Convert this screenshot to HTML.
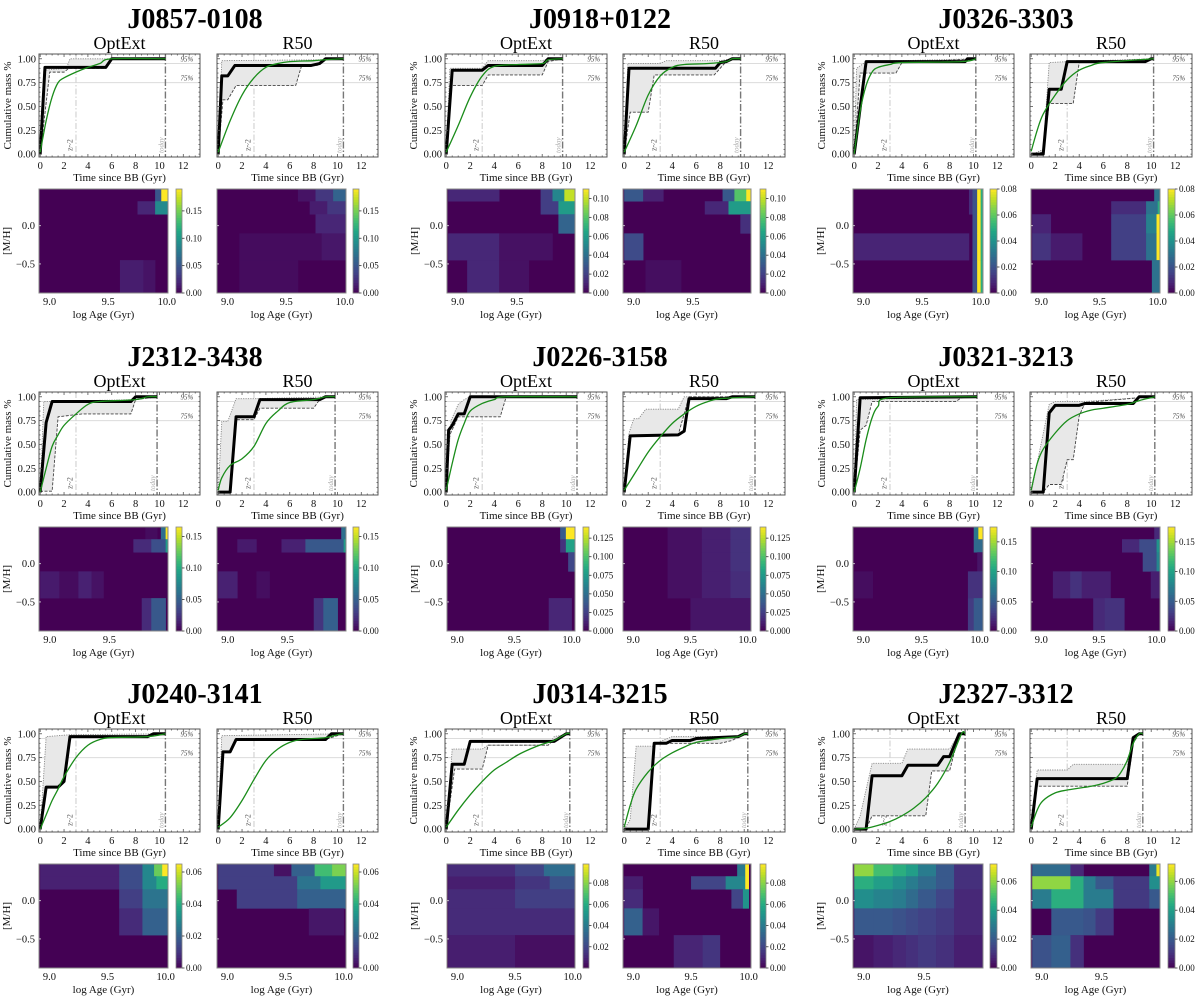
<!DOCTYPE html>
<html><head><meta charset="utf-8">
<style>
html,body{margin:0;padding:0;background:#fff;}
svg{display:block;font-family:"Liberation Serif",serif;}
</style></head>
<body>
<svg id="fig" width="1200" height="999" viewBox="0 0 1200 999" xmlns="http://www.w3.org/2000/svg"></svg>
<script>
// ---------------- DATA ----------------
const galaxyNames = ["J0857-0108","J0918+0122","J0326-3303","J2312-3438","J0226-3158","J0321-3213","J0240-3141","J0314-3215","J2327-3312"];
const todayAges = [10.5,9.7,10.2,9.8,10.9,10.3,10.5,10.3,9.3];
const hmRightLimits = [10.01,9.99,10.02,9.99,10.03,10.03,10.02,10.02,9.99];
const cbMax = [0.19,0.11,0.08,0.165,0.14,0.175,0.065,0.098,0.072];
const cbTicks = [[0,0.05,0.10,0.15],[0,0.02,0.04,0.06,0.08,0.10],[0,0.02,0.04,0.06,0.08],[0,0.05,0.10,0.15],[0,0.025,0.05,0.075,0.1,0.125],[0,0.05,0.10,0.15],[0,0.02,0.04,0.06],[0.02,0.04,0.06,0.08],[0,0.02,0.04,0.06]];
const cbTicksR50 = [[0,0.05,0.10,0.15],[0,0.02,0.04,0.06,0.08,0.10],[0,0.02,0.04,0.06,0.08],[0,0.05,0.10,0.15],[0,0.025,0.05,0.075,0.1,0.125],[0,0.05,0.10,0.15],[0,0.02,0.04,0.06],[0,0.02,0.04,0.06,0.08],[0,0.02,0.04,0.06]];
const cbDecimals = [2,2,2,2,3,2,2,2,2];
const yTicks = [0,0.25,0.5,0.75,1.0];
const xTicks = [0,2,4,6,8,10,12];
const mhTicks = [0.0,-0.5];
const ageTicks = [9.0,9.5,10.0];
const mhEdges = [0.48,0.32,0.15,-0.10,-0.45,-0.88];

const blackOpt = [
 [[0,0],[0.4,0.91],[5.5,0.91],[6,1.0],[10.5,1.0]],
 [[0,0],[0.5,0.88],[3,0.88],[3.5,0.93],[8,0.93],[8.5,1.0],[9.7,1.0]],
 [[0,0],[1,0.97],[9.3,0.97],[9.5,1.0],[10.2,1.0]],
 [[0,0],[0.5,0.73],[1,0.95],[7.6,0.95],[8,1],[9.8,1]],
 [[0,0],[0.2,0.65],[0.5,0.7],[1,0.82],[1.5,0.82],[2,1],[10.9,1]],
 [[0,0],[0.5,0.99],[10.3,1]],
 [[0,0],[0.5,0.44],[1.5,0.44],[2,0.5],[2.5,0.97],[9,0.97],[9.5,1],[10.5,1]],
 [[0,0],[0.5,0.68],[1.5,0.68],[2,0.92],[9,0.92],[10,1],[10.3,1]],
 [[0,0],[1,0],[1.5,0.56],[4,0.56],[4.5,0.67],[7,0.67],[7.5,0.76],[8,0.76],[8.8,1],[9.3,1]]
];
const blackR50 = [
 [[0,0],[0.3,0.82],[0.8,0.82],[1.4,0.93],[7.8,0.93],[8.5,0.95],[9,1.0],[10.5,1.0]],
 [[0,0],[0.4,0.9],[7.6,0.9],[8,0.96],[8.5,0.97],[9,1],[9.7,1]],
 [[0,0],[1,0],[1.5,0.68],[2.5,0.68],[3,0.97],[9.5,0.97],[10,1],[10.2,1]],
 [[0,0],[1,0],[1.5,0.79],[3,0.79],[3.5,0.97],[8.5,0.97],[9,1],[9.8,1]],
 [[0,0],[0.5,0.59],[4.5,0.6],[5,0.64],[5.4,0.98],[8.5,0.98],[9,1],[10.9,1]],
 [[0,0],[1,0],[1.5,0.83],[2,0.91],[4,0.91],[4.5,0.93],[8.5,0.93],[9,1],[10.3,1]],
 [[0,0],[0.4,0.81],[1,0.81],[1.5,0.94],[9,0.94],[9.5,1],[10.5,1]],
 [[0,0],[2,0],[2.5,0.9],[3.5,0.9],[4,0.93],[5.5,0.93],[6,0.95],[9.5,0.97],[10,1],[10.3,1]],
 [[0,0],[0.5,0.53],[8,0.53],[8.5,0.96],[9,1],[9.3,1]]
];
const greenOpt = [
 [[0,0.02],[0.5,0.35],[1,0.6],[1.5,0.75],[2,0.8],[3,0.86],[4,0.91],[5,0.95],[6,1.0],[10.5,1.0]],
 [[0,0.02],[1,0.3],[2,0.6],[3,0.82],[4,0.92],[6,0.94],[8,0.95],[8.5,0.99],[9.7,1]],
 [[0,0],[0.5,0.45],[1,0.72],[1.5,0.86],[2,0.91],[3,0.94],[4,0.96],[9,0.97],[10.2,1]],
 [[0,0],[0.5,0.25],[1,0.48],[1.5,0.6],[2,0.7],[3,0.82],[4,0.92],[5,0.95],[8,0.97],[9,1],[9.8,1]],
 [[0,0.02],[0.5,0.3],[1,0.55],[1.5,0.72],[2,0.85],[3,0.93],[4,0.97],[5,1],[10.9,1]],
 [[0,0],[0.5,0.25],[1,0.55],[1.5,0.78],[2,0.9],[3,0.99],[10.3,1]],
 [[0,0],[0.5,0.15],[1,0.3],[1.5,0.42],[2,0.55],[3,0.75],[4,0.88],[5,0.94],[6,0.96],[9,0.97],[10.5,1]],
 [[0,0.02],[1,0.2],[2,0.36],[3,0.5],[4,0.62],[5,0.7],[6,0.78],[7,0.84],[8,0.89],[9,0.93],[10,1],[10.3,1]],
 [[0,0],[1,0.01],[2,0.04],[3,0.08],[4,0.14],[5,0.22],[6,0.33],[7,0.48],[8,0.7],[9,1],[9.3,1]]
];
const greenR50 = [
 [[0,0.02],[1,0.35],[2,0.62],[3,0.8],[4,0.91],[5,0.95],[6,0.97],[8,0.98],[9,0.99],[10.5,1.0]],
 [[0,0.02],[1,0.3],[2,0.62],[3,0.82],[4,0.91],[5,0.94],[7,0.95],[8.5,0.97],[9,1],[9.7,1]],
 [[0,0.03],[0.5,0.25],[1,0.42],[2,0.62],[3,0.78],[4,0.88],[5,0.93],[6,0.96],[10.2,1]],
 [[0,0.02],[0.3,0.15],[1,0.28],[2,0.35],[3,0.48],[4,0.72],[5,0.85],[6,0.94],[8,0.97],[9,1],[9.8,1]],
 [[0,0.02],[1,0.22],[2,0.42],[3,0.58],[4,0.72],[5,0.82],[6,0.9],[7,0.95],[8,0.98],[10.9,1]],
 [[0,0.02],[0.5,0.3],[1,0.45],[2,0.62],[3,0.75],[4,0.82],[5,0.86],[6,0.88],[8,0.92],[9,0.96],[10.3,1]],
 [[0,0.02],[1,0.12],[2,0.3],[3,0.52],[4,0.72],[5,0.84],[6,0.91],[7,0.94],[9,0.96],[10,0.99],[10.5,1]],
 [[0,0.02],[0.5,0.25],[1,0.42],[2,0.6],[3,0.72],[4,0.8],[5,0.86],[6,0.91],[8,0.95],[9.5,0.97],[10,1],[10.3,1]],
 [[0,0.02],[0.5,0.2],[1,0.3],[2,0.38],[3,0.41],[4,0.43],[5,0.45],[6,0.48],[7,0.53],[7.5,0.6],[8,0.72],[8.5,0.9],[9,1],[9.3,1]]
];
const upperOpt = [
 [[0,0],[0.3,0.88],[2.2,0.9],[2.5,1.0],[10.5,1.0]],
 [[0,0],[0.3,0.9],[3,0.9],[3.5,0.98],[8,0.98],[8.5,1],[9.7,1]],
 [[0,0],[0.2,0.9],[1,0.97],[10.2,1]],
 [[0,0],[0.3,0.95],[8,0.97],[9.8,1]],
 [[0,0],[0.4,0.75],[1,0.92],[1.5,0.97],[2,1],[10.9,1]],
 [[0,0],[0.2,0.97],[10.3,1]],
 [[0,0],[0.5,0.97],[2.5,0.99],[10.5,1]],
 [[0,0],[0.5,0.84],[3,0.84],[3.5,0.88],[8.5,0.88],[9,0.97],[10.3,1]],
 [[0,0],[0.5,0.14],[1.5,0.69],[4,0.69],[4.5,0.84],[8,0.84],[8.8,1],[9.3,1]]
];
const lowerOpt = [
 [[0,0],[0.8,0.86],[2,0.86],[2.4,0.9],[5.5,0.9],[6,1.0],[10.5,1.0]],
 [[0,0],[0.3,0.72],[3,0.72],[3.5,0.83],[8,0.83],[8.5,0.97],[9.7,1]],
 [[0,0],[0.5,0.85],[3.5,0.85],[4,0.96],[10.2,1]],
 [[0,0],[0.2,0.01],[1,0.01],[1.5,0.79],[3.5,0.82],[7.6,0.82],[8,0.97],[9.8,1]],
 [[0,0],[0.3,0.6],[1,0.79],[4.5,0.79],[5,1],[10.9,1]],
 [[0,0],[0.5,0.65],[1,0.7],[1.5,0.95],[8.5,0.95],[9,0.99],[10.3,1]],
 [[0,0],[0.5,0.44],[1.5,0.44],[2,0.5],[2.5,0.97],[9,0.97],[10.5,1]],
 [[0,0],[0.7,0.63],[3,0.63],[3.5,0.88],[8.5,0.88],[9,0.94],[10.3,1]],
 [[0,0],[1,0],[1.5,0.14],[6,0.14],[6.5,0.61],[8,0.61],[8.8,1],[9.3,1]]
];
const upperR50 = [
 [[0,0],[0.3,0.98],[9,0.99],[10.5,1.0]],
 [[0,0],[0.3,0.95],[3,0.95],[3.5,0.98],[8,0.98],[9,1],[9.7,1]],
 [[0,0],[0.5,0.02],[1,0.05],[1.5,0.96],[3,0.97],[10.2,1]],
 [[0,0],[0.3,0.74],[0.8,0.74],[1.5,0.98],[3,0.98],[9.8,1]],
 [[0,0],[0.4,0.62],[0.8,0.77],[1.2,0.77],[1.8,0.87],[4.5,0.87],[5,1],[10.9,1]],
 [[0,0],[1.5,0.92],[2,0.95],[4.5,0.95],[9,0.99],[10.3,1]],
 [[0,0],[0.3,0.98],[10.5,1]],
 [[0,0],[0.5,0.1],[1,0.87],[2.5,0.87],[3,0.92],[4,0.97],[9.5,0.97],[10.3,1]],
 [[0,0],[0.5,0.62],[3,0.62],[3.5,0.68],[8,0.68],[8.5,0.97],[9,1],[9.3,1]]
];
const lowerR50 = [
 [[0,0],[0.4,0.57],[0.8,0.57],[1.5,0.72],[6.5,0.72],[7,0.93],[8.3,0.93],[9,0.99],[10.5,1.0]],
 [[0,0],[0.5,0.44],[2,0.44],[2.5,0.83],[7.5,0.83],[8.5,0.97],[9,1],[9.7,1]],
 [[0,0],[1,0.02],[1.5,0.53],[3.5,0.53],[4,0.96],[10.2,1]],
 [[0,0],[1,0],[1.5,0.76],[3,0.76],[3.5,0.88],[8,0.88],[8.5,0.97],[9,1],[9.8,1]],
 [[0,0],[0.5,0.59],[4.5,0.6],[5.4,1],[10.9,1]],
 [[0,0],[1,0],[1.5,0.08],[2.5,0.08],[3,0.34],[3.5,0.34],[4,0.8],[4.5,0.94],[9,0.99],[10.3,1]],
 [[0,0],[0.4,0.81],[1,0.81],[1.5,0.94],[9,0.94],[10.5,1]],
 [[0,0],[2,0],[2.5,0.9],[6,0.9],[8,0.9],[9,0.93],[10,1],[10.3,1]],
 [[0,0],[0.5,0.45],[8,0.45],[8.5,0.9],[9,1],[9.3,1]]
];
const hmOpt = [
 [[9.95,10.01,0,0.19],[9.9,9.95,0,0.05],[9.75,9.9,1,0.02],[9.9,10.01,1,0.09],[9.6,9.8,4,0.015],[9.8,9.9,4,0.01]],
 [[8.92,9.35,0,0.012],[9.7,9.8,0,0.02],[9.8,9.9,0,0.05],[9.9,9.99,0,0.1],[9.7,9.85,1,0.02],[9.85,9.99,1,0.06],[9.85,9.99,2,0.035],[8.92,9.35,3,0.012],[9.35,9.8,3,0.005],[9.08,9.35,4,0.012],[9.35,9.6,4,0.005]],
 [[8.92,9.9,3,0.008],[9.9,9.95,0,0.01],[9.9,9.95,1,0.01],[9.93,9.97,0,0.02],[9.93,9.97,1,0.02],[9.93,9.97,2,0.02],[9.93,9.97,3,0.02],[9.93,9.97,4,0.02],[9.97,10.0,0,0.08],[9.97,10.0,1,0.08],[9.97,10.0,2,0.08],[9.97,10.0,3,0.08],[9.97,10.0,4,0.08],[10.0,10.02,0,0.05],[10.0,10.02,1,0.05],[10.0,10.02,2,0.05],[10.0,10.02,3,0.05],[10.0,10.02,4,0.05]],
 [[9.8,9.9,0,0.005],[9.93,9.97,0,0.06],[9.97,9.99,0,0.165],[9.7,9.85,1,0.02],[9.85,9.97,1,0.04],[9.97,9.99,1,0.09],[8.92,9.08,3,0.012],[9.08,9.24,3,0.005],[9.24,9.35,3,0.015],[9.35,9.45,3,0.008],[9.77,9.85,4,0.02],[9.85,9.97,4,0.045]],
 [[9.9,9.95,0,0.04],[9.95,10.03,0,0.14],[9.9,9.95,1,0.02],[9.95,10.03,1,0.08],[9.97,10.03,2,0.03],[9.8,10.0,4,0.015]],
 [[9.95,9.99,0,0.07],[9.99,10.03,0,0.175],[9.95,10.03,1,0.06],[9.98,10.03,2,0.01],[8.92,9.08,3,0.006],[9.9,10.03,3,0.025],[9.9,9.95,4,0.03],[9.95,10.03,4,0.05]],
 [[8.92,9.6,0,0.006],[9.6,9.8,0,0.015],[9.8,9.9,0,0.03],[9.9,9.97,0,0.05],[9.97,10.02,0,0.065],[8.92,9.6,1,0.006],[9.6,9.8,1,0.015],[9.8,9.92,1,0.03],[9.92,10.02,1,0.04],[9.6,9.8,2,0.012],[9.8,10.02,2,0.025],[9.6,9.8,3,0.008],[9.8,10.02,3,0.02]],
 [[8.92,10.02,0,0.008],[8.92,10.02,1,0.008],[8.92,10.02,4,0.006],[8.92,9.5,0,0.012],[9.5,9.75,0,0.02],[9.75,10.02,0,0.035],[9.5,9.8,1,0.015],[9.8,10.02,1,0.025],[8.92,9.5,2,0.012],[9.5,10.02,2,0.018],[8.92,10.02,3,0.012],[8.92,9.5,4,0.008],[9.5,10.02,4,0.004]],
 [[8.92,9.08,0,0.06],[9.08,9.24,0,0.05],[9.24,9.35,0,0.045],[9.35,9.45,0,0.04],[9.45,9.6,0,0.03],[9.6,9.75,0,0.02],[9.75,9.99,0,0.01],
  [8.92,9.08,1,0.045],[9.08,9.24,1,0.04],[9.24,9.35,1,0.035],[9.35,9.45,1,0.03],[9.45,9.6,1,0.025],[9.6,9.75,1,0.02],[9.75,9.99,1,0.01],
  [8.92,9.08,2,0.035],[9.08,9.24,2,0.032],[9.24,9.35,2,0.03],[9.35,9.45,2,0.025],[9.45,9.6,2,0.02],[9.6,9.75,2,0.015],[9.75,9.99,2,0.008],
  [8.92,9.08,3,0.02],[9.08,9.24,3,0.02],[9.24,9.35,3,0.018],[9.35,9.45,3,0.016],[9.45,9.6,3,0.014],[9.6,9.75,3,0.012],[9.75,9.99,3,0.008],
  [8.92,9.08,4,0.004],[9.08,9.24,4,0.006],[9.24,9.35,4,0.008],[9.35,9.45,4,0.01],[9.45,9.6,4,0.012],[9.6,9.75,4,0.01],[9.75,9.99,4,0.006]]
];
const hmR50 = [
 [[9.6,9.75,0,0.01],[9.75,9.9,0,0.03],[9.9,10.01,0,0.06],[9.7,9.85,1,0.015],[9.85,10.01,1,0.03],[9.75,10.01,2,0.02],[9.8,10.01,3,0.012],[9.1,9.8,3,0.006],[9.1,9.6,4,0.006]],
 [[8.92,9.08,0,0.03],[9.08,9.25,0,0.01],[9.75,9.85,0,0.03],[9.85,9.95,0,0.08],[9.95,9.99,0,0.11],[9.6,9.8,1,0.012],[9.8,9.99,1,0.06],[9.9,9.99,2,0.015],[8.92,9.08,3,0.025],[9.1,9.4,4,0.004]],
 [[9.97,10.02,0,0.03],[9.6,9.9,1,0.01],[9.9,10.0,1,0.03],[10.0,10.02,1,0.05],[8.92,9.08,2,0.008],[9.6,9.9,2,0.015],[9.9,9.99,2,0.035],[9.99,10.02,2,0.08],[8.92,9.08,3,0.012],[9.08,9.35,3,0.006],[9.6,9.9,3,0.015],[9.9,9.99,3,0.03],[9.99,10.02,3,0.08],[9.95,10.02,4,0.03]],
 [[9.95,9.99,0,0.06],[9.08,9.24,1,0.012],[9.45,9.65,1,0.015],[9.65,9.97,1,0.045],[9.97,9.99,1,0.09],[8.92,9.08,3,0.015],[9.24,9.35,3,0.006],[9.72,9.8,4,0.025],[9.8,9.92,4,0.05]],
 [[9.3,9.6,0,0.006],[9.6,9.85,0,0.012],[9.85,10.03,0,0.02],[9.3,9.6,1,0.006],[9.6,9.85,1,0.012],[9.85,10.03,1,0.02],[9.3,9.6,2,0.006],[9.6,9.85,2,0.012],[9.85,10.03,2,0.02],[9.3,9.6,3,0.006],[9.6,9.85,3,0.012],[9.85,10.03,3,0.018],[9.5,10.03,4,0.008]],
 [[9.98,10.03,0,0.02],[9.7,9.85,1,0.02],[9.85,10.0,1,0.04],[10.0,10.03,1,0.09],[9.88,10.0,2,0.04],[10.0,10.03,2,0.08],[9.1,9.25,3,0.015],[9.25,9.35,3,0.025],[9.35,9.6,3,0.015],[9.95,10.03,3,0.015],[9.45,9.55,4,0.02],[9.55,9.72,4,0.025]],
 [[8.92,9.4,0,0.012],[9.4,9.55,0,0.003],[9.55,9.75,0,0.02],[9.75,9.9,0,0.045],[9.9,10.02,0,0.052],[8.92,9.6,1,0.012],[9.6,9.8,1,0.025],[9.8,10.02,1,0.035],[9.08,9.6,2,0.012],[9.6,10.02,2,0.02],[9.7,10.0,3,0.004]],
 [[9.9,9.97,0,0.04],[9.97,10.0,0,0.098],[8.92,9.08,1,0.008],[9.5,9.8,1,0.02],[9.8,9.97,1,0.045],[9.97,10.0,1,0.098],[8.92,9.08,2,0.012],[9.85,9.95,2,0.02],[9.95,10.0,2,0.05],[8.92,9.08,3,0.03],[9.08,9.22,3,0.006],[9.35,9.6,4,0.01],[9.6,9.75,4,0.015]],
 [[8.92,9.24,0,0.025],[9.24,9.35,0,0.008],[9.9,9.96,0,0.03],[9.96,9.99,0,0.07],[8.92,9.24,1,0.06],[9.24,9.35,1,0.045],[9.35,9.45,1,0.03],[9.45,9.6,1,0.02],[9.6,9.9,1,0.012],[9.9,9.99,1,0.035],[8.92,9.08,2,0.03],[9.08,9.35,2,0.045],[9.35,9.6,2,0.03],[9.6,9.9,2,0.012],[9.9,9.99,2,0.02],[9.08,9.35,3,0.02],[9.35,9.45,3,0.018],[9.45,9.6,3,0.012],[8.92,9.08,4,0.018],[9.08,9.24,4,0.022],[9.24,9.35,4,0.01]]
];

// ---------------- LAYOUT ----------------
const colLayouts = [
 {title:195, ax1:[39,200], ax2:[217,378], hm1:[39,168], cb1:[176,182], hm2:[217,346], cb2:[353,359]},
 {title:600, ax1:[445,607], ax2:[623,785], hm1:[447,575], cb1:[583,589], hm2:[623,751], cb2:[760,766]},
 {title:1006, ax1:[853,1014], ax2:[1030,1192], hm1:[853,983], cb1:[990,997], hm2:[1031,1160], cb2:[1168,1175]}
];
const rowOffsets = [0,338,675];

const NS = "http://www.w3.org/2000/svg";
const svg = document.getElementById('fig');
function el(tag, attrs, parent){
  const e = document.createElementNS(NS, tag);
  for (const k in attrs) e.setAttribute(k, attrs[k]);
  (parent||svg).appendChild(e);
  return e;
}
function txt(s, attrs, parent){ const t = el('text', attrs, parent); t.textContent = s; return t; }

const VIR = ["#440154","#482475","#414487","#355f8d","#2a788e","#21918c","#22a884","#44bf70","#7ad151","#bddf26","#fde725"];
function hex(h){return [parseInt(h.substr(1,2),16),parseInt(h.substr(3,2),16),parseInt(h.substr(5,2),16)];}
function viridis(v){
  v = Math.max(0, Math.min(1, v));
  const p = v*10, i = Math.min(9, Math.floor(p)), f = p - i;
  const a = hex(VIR[i]), b = hex(VIR[i+1]);
  return "rgb("+a.map((c,k)=>Math.round(c+(b[k]-c)*f)).join(",")+")";
}
function smoothPath(pts){
  let d = "M"+pts[0][0]+","+pts[0][1];
  for (let i=0;i<pts.length-1;i++){
    const p0 = pts[Math.max(0,i-1)], p1 = pts[i], p2 = pts[i+1], p3 = pts[Math.min(pts.length-1,i+2)];
    const c1x = p1[0]+(p2[0]-p0[0])/6, c1y = p1[1]+(p2[1]-p0[1])/6;
    const c2x = p2[0]-(p3[0]-p1[0])/6, c2y = p2[1]-(p3[1]-p1[1])/6;
    d += " C"+c1x+","+c1y+" "+c2x+","+c2y+" "+p2[0]+","+p2[1];
  }
  return d;
}

function drawCumulative(g, X0, X1, Y0, Y1, gi, which, showY){
  const grp = el('g', {}, g);
  
  
  const xs = t => X0 + (t + 0.1)/13.5*(X1-X0);
  const ys = f => Y1 - (f + 0.03)/1.08*(Y1-Y0);
  const today = todayAges[gi];
  const blk = which==='optext'?blackOpt[gi]:blackR50[gi];
  const grn = which==='optext'?greenOpt[gi]:greenR50[gi];
  const up = which==='optext'?upperOpt[gi]:upperR50[gi];
  const lo = which==='optext'?lowerOpt[gi]:lowerR50[gi];
  [0.95,0.75].forEach(v=>{
    const l = el('line',{x1:X0,x2:X1,y1:ys(v),y2:ys(v),stroke:"#dcdcdc","stroke-width":1},grp);
    
    
    const t = txt(Math.round(v*100)+"%",{x:xs(12.3),y:ys(v)-2,"font-size":7,"font-style":"italic","text-anchor":"middle",fill:"#444"},grp);
    
    
  });
  const zl = el('line',{x1:xs(3),x2:xs(3),y1:Y0,y2:Y1,stroke:"#d4d4d4","stroke-width":1.2,"stroke-dasharray":"6,2,1.5,2"},grp);
  
  
  const zt = txt("z~2",{x:0,y:0,"font-size":8,fill:"#555",transform:"translate("+(xs(2.7))+","+(Y1-6)+") rotate(-90)"},grp);
  
  
  const band = up.map(p=>xs(p[0])+","+ys(p[1])).concat(lo.slice().reverse().map(p=>xs(p[0])+","+ys(p[1]))).join(" ");
  const bp = el('polygon',{points:band,fill:"#e8e8e8",stroke:"none"},grp);
  
  
  const upl = el('polyline',{points:up.map(p=>xs(p[0])+","+ys(p[1])).join(" "),fill:"none",stroke:"#888","stroke-width":0.9,"stroke-dasharray":"1.2,1.2"},grp);
  
  
  const lol = el('polyline',{points:lo.map(p=>xs(p[0])+","+ys(p[1])).join(" "),fill:"none",stroke:"#444","stroke-width":0.9,"stroke-dasharray":"3,1.5"},grp);
  
  
  const tl = el('line',{x1:xs(today),x2:xs(today),y1:Y0,y2:Y1,stroke:"#777","stroke-width":1.4,"stroke-dasharray":"7,2,1.5,2"},grp);
  
  
  const tt = txt("today",{x:0,y:0,"font-size":7,fill:"#aaa","font-style":"italic",transform:"translate("+(xs(today)-2)+","+(Y1-4)+") rotate(-90)"},grp);
  
  
  const bl = el('polyline',{points:blk.map(p=>xs(p[0])+","+ys(p[1])).join(" "),fill:"none",stroke:"#000","stroke-width":3,"stroke-linejoin":"round"},grp);
  
  
  const gl = el('path',{d:smoothPath(grn.map(p=>[xs(p[0]),ys(p[1])])),fill:"none",stroke:"#1a8c1a","stroke-width":1.3},grp);
  
  
  const fr = el('rect',{x:X0,y:Y0,width:X1-X0,height:Y1-Y0,fill:"none",stroke:"#555","stroke-width":1},grp);
  
  
  for (let t=0;t<=13;t+=0.5){
    const major = (t%2===0);
    el('line',{x1:xs(t),x2:xs(t),y1:Y1,y2:Y1-(major?3:1.5),stroke:"#555","stroke-width":0.8},grp);
    el('line',{x1:xs(t),x2:xs(t),y1:Y0,y2:Y0+(major?3:1.5),stroke:"#555","stroke-width":0.8},grp);
  }
  for (let f=0;f<=1.0001;f+=0.05){
    el('line',{x1:X0,x2:X0+(Math.abs(f*4-Math.round(f*4))<0.01?3:1.5),y1:ys(f),y2:ys(f),stroke:"#555","stroke-width":0.8},grp);
    el('line',{x1:X1,x2:X1-1.5,y1:ys(f),y2:ys(f),stroke:"#555","stroke-width":0.8},grp);
  }
  xTicks.forEach(t=>{
    const l = txt(String(t),{x:xs(t),y:Y1+12,"font-size":10.5,"text-anchor":"middle",fill:"#111"},grp);
    
    
  });
  const xl = txt("Time since BB (Gyr)",{x:(X0+X1)/2,y:Y1+24,"font-size":11,"text-anchor":"middle",fill:"#111"},grp);
  
  
  if (showY){
    yTicks.forEach(v=>{
      const l = txt(v.toFixed(2),{x:X0-3,y:ys(v)+3.5,"font-size":10.5,"text-anchor":"end",fill:"#111"},grp);
      
      
    });
    const yl = txt("Cumulative mass %",{x:0,y:0,"font-size":11,"text-anchor":"middle",fill:"#111",transform:"translate("+(X0-28)+","+((Y0+Y1)/2)+") rotate(-90)"},grp);
    
    
  }
}

function drawHeatmap(g, X0, X1, Y0, Y1, CB0, CB1, gi, which, showY){
  const grp = el('g', {}, g);
  
  
  const aMin = 8.91, aMax = hmRightLimits[gi];
  const xa = a => X0 + (Math.max(aMin,Math.min(aMax,a)) - aMin)/(aMax-aMin)*(X1-X0);
  const ym = m => Y0 + (mhEdges[0]-m)/(mhEdges[0]-mhEdges[mhEdges.length-1])*(Y1-Y0);
  const vmax = cbMax[gi];
  const bg = el('rect',{x:X0,y:Y0,width:X1-X0,height:Y1-Y0,fill:viridis(0)},grp);
  
  
  const cells = which==='optext'?hmOpt[gi]:hmR50[gi];
  cells.forEach(c=>{
    const x = xa(c[0]), w = xa(c[1])-x;
    if (w<=0) return;
    const r = el('rect',{x:x,y:ym(mhEdges[c[2]]),width:w+0.3,height:ym(mhEdges[c[2]+1])-ym(mhEdges[c[2]])+0.3,fill:viridis(c[3]/vmax)},grp);
    
    
  });
  const fr = el('rect',{x:X0,y:Y0,width:X1-X0,height:Y1-Y0,fill:"none",stroke:"#888","stroke-width":1},grp);
  
  
  ageTicks.forEach(a=>{
    if (a>aMax) return;
    const l = txt(a.toFixed(1),{x:xa(a),y:Y1+12,"font-size":10.5,"text-anchor":"middle",fill:"#111"},grp);
    
    
  });
  const xl = txt("log Age (Gyr)",{x:(X0+X1)/2,y:Y1+25,"font-size":11,"text-anchor":"middle",fill:"#111"},grp);
  
  
  mhTicks.forEach(m=>{
    el('line',{x1:X0,x2:X0+2,y1:ym(m),y2:ym(m),stroke:"#ddd","stroke-width":0.8},grp);
    if (showY){
      const l = txt(m===0?"0.0":"\u22120.5",{x:X0-4,y:ym(m)+3.5,"font-size":10.5,"text-anchor":"end",fill:"#111"},grp);
      
      
    }
  });
  if (showY){
    const yl = txt("[M/H]",{x:0,y:0,"font-size":11,"text-anchor":"middle",fill:"#111",transform:"translate("+(X0-29)+","+((Y0+Y1)/2)+") rotate(-90)"},grp);
    
    
  }
  const cb = el('g',{},g);
  
  
  const N = 40;
  for (let i=0;i<N;i++){
    const h = (Y1-Y0)/N;
    el('rect',{x:CB0,y:Y1-(i+1)*h,width:CB1-CB0,height:h+0.4,fill:viridis((i+0.5)/N)},cb);
  }
  el('rect',{x:CB0,y:Y0,width:CB1-CB0,height:Y1-Y0,fill:"none",stroke:"#888","stroke-width":0.8},cb);
  const ticks = which==='optext'?cbTicks[gi]:cbTicksR50[gi];
  ticks.forEach(v=>{
    const y = Y1 - v/vmax*(Y1-Y0);
    el('line',{x1:CB1,x2:CB1+2.5,y1:y,y2:y,stroke:"#333","stroke-width":0.8},cb);
    const l = txt(v.toFixed(cbDecimals[gi]),{x:CB1+4,y:y+3,"font-size":9,fill:"#111"},cb);
    
    
  });
}

galaxyNames.forEach((name, gi)=>{
  const L = colLayouts[gi%3], dy = rowOffsets[Math.floor(gi/3)];
  const g = el('g',{});
  
  
  const t = txt(name,{x:L.title,y:dy+28,"font-size":28,"font-weight":"bold","text-anchor":"middle",fill:"#000"},g);
  
  
  const s1 = txt("OptExt",{x:(L.ax1[0]+L.ax1[1])/2,y:dy+49,"font-size":18,"text-anchor":"middle",fill:"#000"},g);
  
  
  const s2 = txt("R50",{x:(L.ax2[0]+L.ax2[1])/2,y:dy+49,"font-size":18,"text-anchor":"middle",fill:"#000"},g);
  
  
  drawCumulative(g, L.ax1[0], L.ax1[1], dy+54, dy+157, gi, 'optext', true);
  drawCumulative(g, L.ax2[0], L.ax2[1], dy+54, dy+157, gi, 'r50', false);
  drawHeatmap(g, L.hm1[0], L.hm1[1], dy+189, dy+293, L.cb1[0], L.cb1[1], gi, 'optext', true);
  drawHeatmap(g, L.hm2[0], L.hm2[1], dy+189, dy+293, L.cb2[0], L.cb2[1], gi, 'r50', false);
});
</script>
</body></html>
